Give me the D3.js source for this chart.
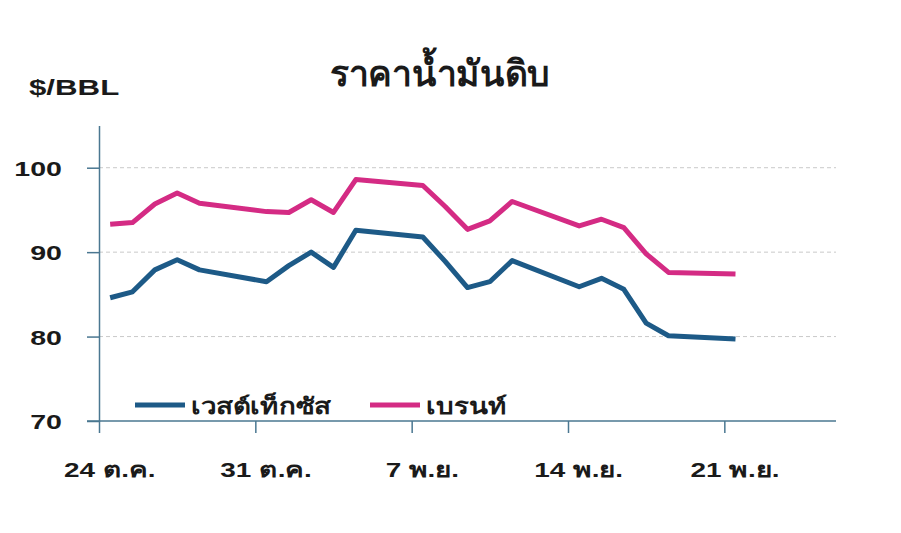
<!DOCTYPE html>
<html>
<head>
<meta charset="utf-8">
<script src="https://cdn.jsdelivr.net/npm/d3@7"></script>
<style>
  html, body { margin: 0; padding: 0; background: #fff; }
  svg { display: block; }
  text { font-family: "Liberation Sans", Arial, "Noto Sans", sans-serif; font-weight: bold; fill: #1a1a1a; }
</style>
</head>
<body>
<svg id="chart" width="901" height="533"></svg>
<script>
// ---- data ----
const dates = ["2022-10-24","2022-10-25","2022-10-26","2022-10-27","2022-10-28",
  "2022-10-31","2022-11-01","2022-11-02","2022-11-03","2022-11-04",
  "2022-11-07","2022-11-08","2022-11-09","2022-11-10","2022-11-11",
  "2022-11-14","2022-11-15","2022-11-16","2022-11-17","2022-11-18",
  "2022-11-21"];
const wti   = [84.6,85.3,87.9,89.1,87.9, 86.5,88.4,90.0,88.2,92.6, 91.8,88.9,85.8,86.5,89.0, 85.9,86.9,85.6,81.6,80.1, 79.7];
const brent = [93.3,93.5,95.7,97.0,95.8, 94.8,94.7,96.2,94.7,98.6, 97.9,95.4,92.7,93.7,96.0, 93.1,93.9,92.9,89.8,87.6, 87.4];
const seriesNames = ["เวสต์เท็กซัส","เบรนท์"];
const seriesColors = ["#1d5a87","#d42b84"];
const yTicks = [70,80,90,100];
const xTickDates = ["2022-10-24","2022-10-31","2022-11-07","2022-11-14","2022-11-21"];
const xTickLabels = ["24 ต.ค.","31 ต.ค.","7 พ.ย.","14 พ.ย.","21 พ.ย."];
const title = "ราคาน้ำมันดิบ";
const unitLabel = "$/BBL";

// ---- helpers ----
function stretch(sel, k) {
  sel.each(function() {
    const L = this.getComputedTextLength();
    d3.select(this).attr("textLength", L * k).attr("lengthAdjust", "spacingAndGlyphs");
  });
}

// ---- scales ----
const parse = d3.utcParse("%Y-%m-%d");
const svg = d3.select("#chart");
const x = d3.scaleUtc().domain([parse("2022-10-24"), parse("2022-11-26")]).range([99, 836]);
const y = d3.scaleLinear().domain([70, 105]).range([421, 125.5]);
const mid = d => d3.utcHour.offset(parse(d), 12);
const halfDay = x(mid("2022-10-24")) - x(parse("2022-10-24"));

const axisColor = "#4a7791";

// gridlines
svg.append("g").selectAll("line").data(yTicks.filter(v => v > 70)).join("line")
  .attr("x1", x.range()[0]).attr("x2", x.range()[1])
  .attr("y1", d => y(d)).attr("y2", d => y(d))
  .attr("stroke", "#c9c9c9").attr("stroke-width", 1).attr("stroke-dasharray", "4,3");

// y axis
const yAxis = svg.append("g").attr("transform", `translate(${x.range()[0]},0)`)
  .call(d3.axisLeft(y).tickValues(yTicks).tickSize(12).tickSizeOuter(0).tickFormat(d3.format("d")));
yAxis.select(".domain").attr("stroke", axisColor).attr("stroke-width", 1.5);
yAxis.selectAll(".tick line").attr("stroke", axisColor).attr("stroke-width", 1.5);
yAxis.selectAll(".tick text").attr("x", -37).attr("dy", "0.36em")
  .attr("font-size", 21).attr("fill", "#1a1a1a")
  .style("font-family", "Liberation Sans, Arial, sans-serif").style("font-weight", "bold");
stretch(yAxis.selectAll(".tick text"), 1.36);

// x axis
const xAxis = svg.append("g").attr("transform", `translate(0,${y(70)})`)
  .call(d3.axisBottom(x).tickValues(xTickDates.map(parse)).tickSize(12).tickSizeOuter(0)
    .tickFormat((d, i) => xTickLabels[i]));
xAxis.select(".domain").attr("stroke", axisColor).attr("stroke-width", 1.5)
  .attr("d", `M${x.range()[0]-12},0H${x.range()[1]}`);
xAxis.selectAll(".tick line").attr("stroke", axisColor).attr("stroke-width", 1.5);
xAxis.selectAll(".tick text").attr("x", halfDay - 1).attr("y", 56).attr("dy", 0)
  .attr("font-size", 21).attr("fill", "#1a1a1a")
  .style("font-family", "Liberation Sans, Arial, sans-serif").style("font-weight", "bold");
stretch(xAxis.selectAll(".tick text"), 1.33);

// lines
const line = d3.line().x(d => x(mid(d.date))).y(d => y(d.value));
[wti, brent].forEach((vals, si) => {
  const pts = vals.map((v, i) => ({date: dates[i], value: v}));
  svg.append("path").datum(pts)
    .attr("fill", "none").attr("stroke", seriesColors[si]).attr("stroke-width", 5)
    .attr("stroke-linejoin", "round").attr("d", line);
});

// legend
const legendX = [135, 370];
seriesNames.forEach((name, i) => {
  svg.append("line").attr("x1", legendX[i]).attr("x2", legendX[i] + 50)
    .attr("y1", 405).attr("y2", 405).attr("stroke", seriesColors[i]).attr("stroke-width", 5);
  const t = svg.append("text").attr("x", legendX[i] + 56).attr("y", 414).attr("font-size", 22).text(name);
  stretch(t, 1.26);
});

// title & unit
const tt = svg.append("text").attr("x", 440).attr("y", 86).attr("text-anchor", "middle")
  .attr("font-size", 36).text(title);
tt.attr("textLength", 220).attr("lengthAdjust", "spacingAndGlyphs");
const ut = svg.append("text").attr("x", 29).attr("y", 95).attr("font-size", 22).text(unitLabel);
stretch(ut, 1.42);
</script>
</body>
</html>
